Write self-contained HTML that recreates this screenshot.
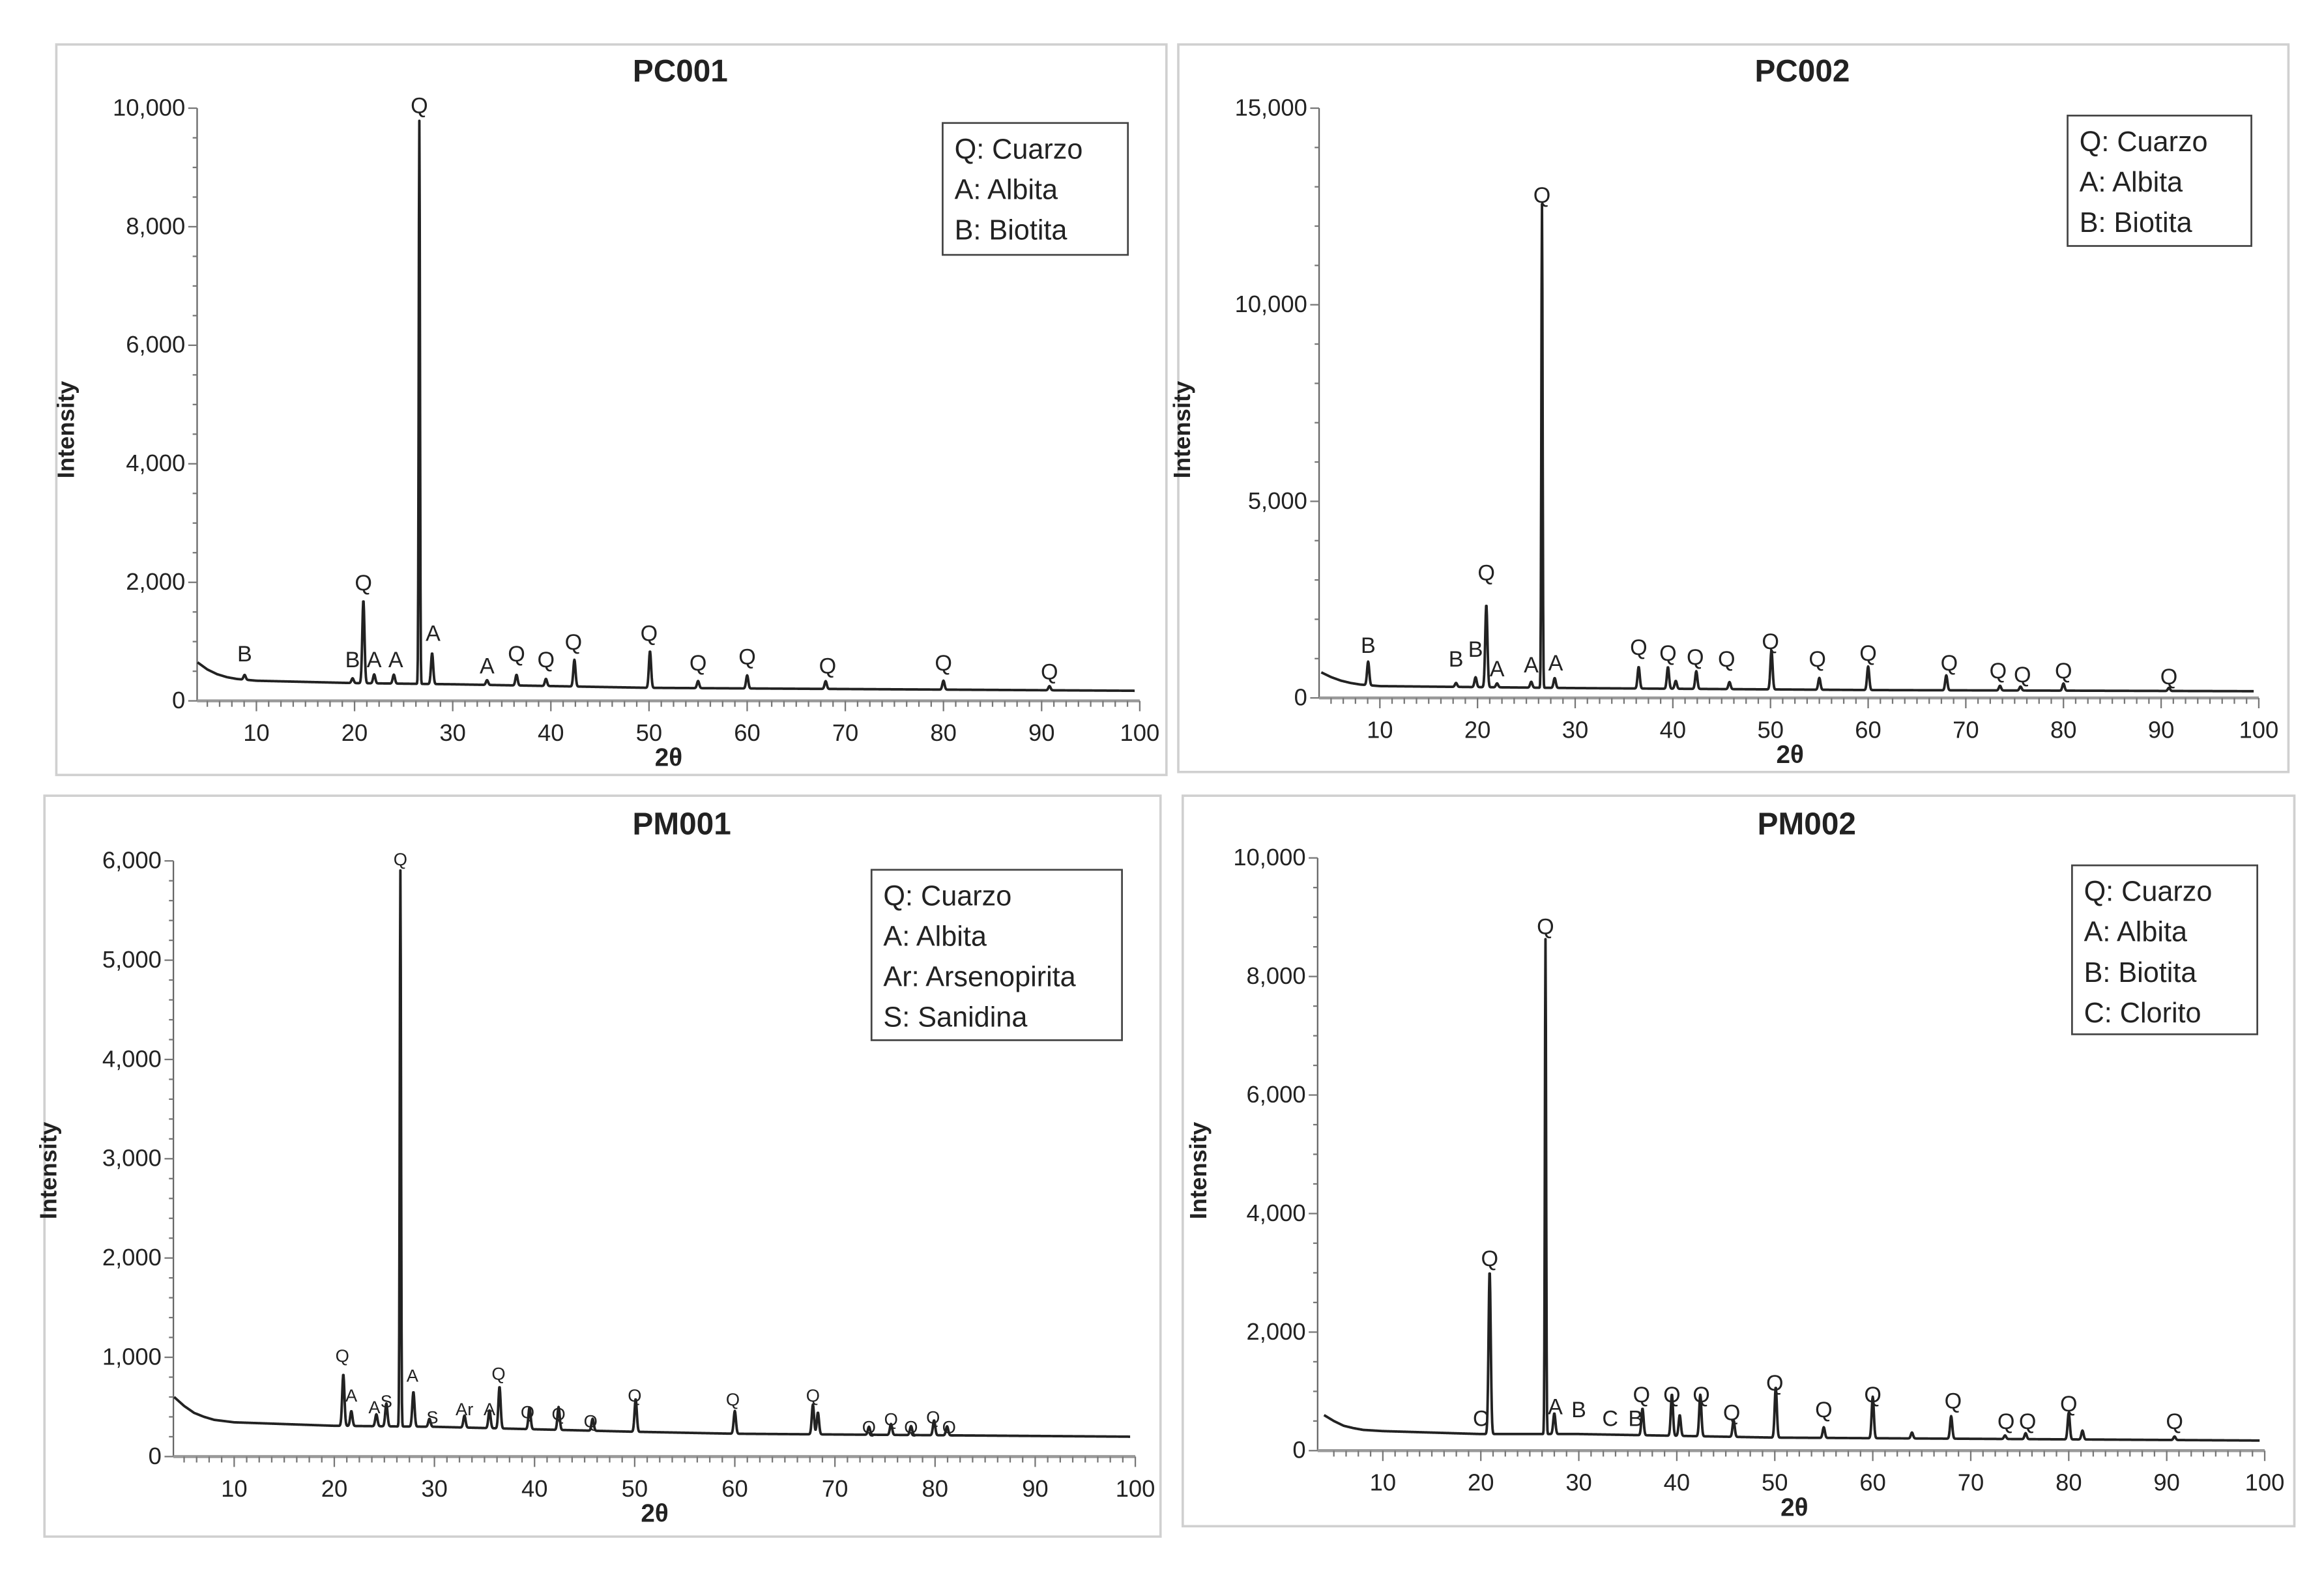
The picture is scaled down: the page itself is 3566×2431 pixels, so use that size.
<!DOCTYPE html>
<html><head><meta charset="utf-8">
<style>
html,body{margin:0;padding:0;background:#fff;}
svg{display:block;}
text{font-family:"Liberation Sans",sans-serif;fill:#222;}
</style></head>
<body>
<svg id="fig" width="3566" height="2431" viewBox="0 0 1568 1069" preserveAspectRatio="none" xmlns="http://www.w3.org/2000/svg"></svg>
<script>
// ---------- PC001 data ----------
const pc001BgX=[4,5,6,7,8,10,20,30,50,70,100];
const pc001BgY=[650,530,450,400,370,340,300,280,220,200,170];
const pc001PeakPos=[8.8,19.8,20.9,22,24,26.6,27.9,33.5,36.5,39.5,42.4,50.1,55,60,68,80,90.8];
const pc001PeakInt=[80,80,1400,150,150,9500,520,80,180,120,450,620,120,220,130,150,70];
const pc001LabelPos=[8.8,19.8,20.9,22,24.2,26.6,28,33.5,36.5,39.5,42.3,50,55,60,68.2,80,90.8];
const pc001LabelInt=[800,700,2000,700,700,10050,1150,600,800,700,1000,1150,650,750,600,650,500];
const pc001LabelText=["B","B","Q","A","A","Q","A","A","Q","Q","Q","Q","Q","Q","Q","Q","Q"];
const pc001Legend=["Q: Cuarzo","A: Albita","B: Biotita"];
// ---------- PC002 data ----------
const pc002BgX=[4,5,6,7,8,10,30,60,100];
const pc002BgY=[650,530,440,380,340,300,250,200,170];
const pc002PeakPos=[8.8,17.8,19.8,20.9,22,25.5,26.6,27.9,36.5,39.5,40.3,42.4,45.8,50.1,55,60,68,73.5,75.6,80,90.8];
const pc002PeakInt=[600,100,250,2100,100,150,12300,250,550,550,200,450,180,1000,300,600,380,120,100,180,80];
const pc002LabelPos=[8.8,17.8,19.8,20.9,22,25.5,26.6,28,36.5,39.5,42.3,45.5,50,54.8,60,68.3,73.3,75.8,80,90.8];
const pc002LabelInt=[1350,1000,1250,3200,750,850,12800,900,1300,1150,1050,1000,1450,1000,1150,900,700,600,700,550];
const pc002LabelText=["B","B","B","Q","A","A","Q","A","Q","Q","Q","Q","Q","Q","Q","Q","Q","Q","Q","Q"];
const pc002Legend=["Q: Cuarzo","A: Albita","B: Biotita"];
// ---------- PM001 data ----------
const pm001BgX=[4,5,6,7,8,10,20,30,50,60,100];
const pm001BgY=[600,510,440,400,370,345,310,300,250,230,200];
const pm001PeakPos=[20.9,21.7,24.2,25.2,26.6,27.9,29.5,33,35.5,36.5,39.5,42.4,45.8,50.1,60,67.8,68.3,73.4,75.6,77.6,79.9,81.2];
const pm001PeakInt=[520,150,120,230,5600,350,80,120,180,420,220,230,120,330,230,300,220,80,110,90,150,90];
const pm001LabelPos=[20.8,21.7,24,25.2,26.6,27.8,29.8,33,35.5,36.4,39.3,42.4,45.6,50,59.8,67.8,73.4,75.6,77.6,79.8,81.4];
const pm001LabelInt=[1020,620,500,560,6020,820,400,480,480,840,450,430,360,620,580,620,300,380,300,400,300];
const pm001LabelText=["Q","A","A","S","Q","A","S","Ar","A","Q","Q","Q","Q","Q","Q","Q","Q","Q","Q","Q","Q"];
const pm001Legend=["Q: Cuarzo","A: Albita","Ar: Arsenopirita","S: Sanidina"];
// ---------- PM002 data ----------
const pm002BgX=[4,5,6,7,8,10,20,30,50,100];
const pm002BgY=[600,500,420,380,350,330,280,280,220,170];
const pm002PeakPos=[20.9,26.6,27.5,36.5,39.5,40.3,42.4,45.8,50.1,55,60,64,68,73.5,75.6,80,81.4,90.8];
const pm002PeakInt=[2750,8350,350,450,700,350,700,280,850,180,700,100,380,60,100,450,150,60];
const pm002LabelPos=[20,20.9,26.6,27.6,30,33.2,35.8,36.4,39.5,42.5,45.6,50,55,60,68.2,73.6,75.8,80,90.8];
const pm002LabelInt=[550,3250,8850,750,700,550,550,950,950,950,650,1150,700,950,850,500,500,800,500];
const pm002LabelText=["C","Q","Q","A","B","C","B","Q","Q","Q","Q","Q","Q","Q","Q","Q","Q","Q","Q"];
const pm002Legend=["Q: Cuarzo","A: Albita","B: Biotita","C: Clorito"];

const NS="http://www.w3.org/2000/svg";
const svg=document.getElementById('fig');
function mk(tag,attrs,parent){const e=document.createElementNS(NS,tag);for(const k in attrs)e.setAttribute(k,attrs[k]);(parent||svg).appendChild(e);return e;}

const panels=[
 {id:'pc001',title:'PC001',frame:[38,30,749,493],ax:133,y0:473,ytop:73,ymax:10000,ystep:2000,yminor:500,x10:173,x100:769,
  titleXY:[459,48],ylab:[44,290],leg:[636,83,125,89],legFs:19,lblFs:15,
  bgX:pc001BgX,bgY:pc001BgY,pp:pc001PeakPos,pi:pc001PeakInt,lp:pc001LabelPos,li:pc001LabelInt,lt:pc001LabelText,legend:pc001Legend},
 {id:'pc002',title:'PC002',frame:[795,30,749,491],ax:890,y0:471,ytop:73,ymax:15000,ystep:5000,yminor:1000,x10:931,x100:1524,
  titleXY:[1216,48],ylab:[797,290],leg:[1395,78,124,88],legFs:19,lblFs:15,
  bgX:pc002BgX,bgY:pc002BgY,pp:pc002PeakPos,pi:pc002PeakInt,lp:pc002LabelPos,li:pc002LabelInt,lt:pc002LabelText,legend:pc002Legend},
 {id:'pm001',title:'PM001',frame:[30,537,753,500],ax:117,y0:983,ytop:581,ymax:6000,ystep:1000,yminor:200,x10:158,x100:766,
  titleXY:[460,556],ylab:[32,790],leg:[588,587,169,115],legFs:19,lblFs:12,
  bgX:pm001BgX,bgY:pm001BgY,pp:pm001PeakPos,pi:pm001PeakInt,lp:pm001LabelPos,li:pm001LabelInt,lt:pm001LabelText,legend:pm001Legend},
 {id:'pm002',title:'PM002',frame:[798,537,750,493],ax:889,y0:979,ytop:579,ymax:10000,ystep:2000,yminor:500,x10:933,x100:1528,
  titleXY:[1219,556],ylab:[808,790],leg:[1398,584,125,114],legFs:19,lblFs:15,
  bgX:pm002BgX,bgY:pm002BgY,pp:pm002PeakPos,pi:pm002PeakInt,lp:pm002LabelPos,li:pm002LabelInt,lt:pm002LabelText,legend:pm002Legend}
];

function interp(xs,ys,x){
  if(x<=xs[0])return ys[0];
  for(let i=1;i<xs.length;i++){if(x<=xs[i]){const t=(x-xs[i-1])/(xs[i]-xs[i-1]);return ys[i-1]+(ys[i]-ys[i-1])*t;}}
  return ys[ys.length-1];
}

panels.forEach(p=>{
  const g=mk('g',{});
  
  
  const sx=v=>p.x10+(v-10)*(p.x100-p.x10)/90;
  const sy=v=>p.y0-v*(p.y0-p.ytop)/p.ymax;
  const fr=mk('rect',{x:p.frame[0],y:p.frame[1],width:p.frame[2],height:p.frame[3],fill:'none',stroke:'#d0d0d0','stroke-width':1.6},g);
  
  
  const t=mk('text',{x:p.titleXY[0],y:p.titleXY[1]+7,'text-anchor':'middle','font-size':21,'font-weight':'bold',fill:'#111'},g);
  t.textContent=p.title;
  
  
  const yl=mk('text',{x:0,y:0,transform:`translate(${p.ylab[0]+6},${p.ylab[1]}) rotate(-90)`,'text-anchor':'middle','font-size':16,'font-weight':'bold',fill:'#111'},g);
  yl.textContent='Intensity';
  
  
  const xl=mk('text',{x:(sx(4)+sx(100))/2,y:p.y0+44,'text-anchor':'middle','font-size':17,'font-weight':'bold',fill:'#111'},g);
  xl.textContent='2θ';
  
  
  const ya=mk('line',{x1:p.ax,y1:p.ytop,x2:p.ax,y2:p.y0,stroke:'#666','stroke-width':1},g);
  
  
  const xa=mk('line',{x1:p.ax,y1:p.y0,x2:sx(100),y2:p.y0,stroke:'#999','stroke-width':2},g);
  
  
  for(let v=0;v<=p.ymax+1e-6;v+=p.yminor){
    const major=Math.abs(v/p.ystep-Math.round(v/p.ystep))<1e-6;
    mk('line',{x1:p.ax-(major?6:3),y1:sy(v),x2:p.ax,y2:sy(v),stroke:'#777','stroke-width':1},g);
    if(major){const tl=mk('text',{x:p.ax-8,y:sy(v)+5,'text-anchor':'end','font-size':16,fill:'#333'},g);
      tl.textContent=v.toLocaleString('en-US');
      
      }
  }
  for(let v=5;v<=100;v+=1.25){
    const major=Math.abs(v%10)<1e-6;
    mk('line',{x1:sx(v),y1:p.y0,x2:sx(v),y2:p.y0+(major?7:4),stroke:'#777','stroke-width':1},g);
  }
  for(let v=10;v<=100;v+=10){
    const tl=mk('text',{x:sx(v),y:p.y0+27,'text-anchor':'middle','font-size':16,fill:'#333'},g);
    tl.textContent=v;
    
    
  }
  let d='';
  for(let x=4;x<=99.5;x+=0.04){
    let y=interp(p.bgX,p.bgY,x);
    for(let i=0;i<p.pp.length;i++){const w=p.pi[i]>3000?0.09:0.16;const dx=(x-p.pp[i])/w;y+=p.pi[i]*Math.exp(-dx*dx);}
    d+=(d?'L':'M')+sx(x).toFixed(2)+' '+sy(y).toFixed(2);
  }
  const tr=mk('path',{d:d,fill:'none',stroke:'#222','stroke-width':1.7,'stroke-linejoin':'round'},g);
  
  
  for(let i=0;i<p.lp.length;i++){
    const lt=mk('text',{x:sx(p.lp[i]),y:sy(p.li[i])+p.lblFs*0.36,'text-anchor':'middle','font-size':p.lblFs,fill:'#222'},g);
    lt.textContent=p.lt[i];
    
    
  }
  const lg=mk('g',{},g);
  
  
  mk('rect',{x:p.leg[0],y:p.leg[1],width:p.leg[2],height:p.leg[3],fill:'#fff',stroke:'#444','stroke-width':1.2},lg);
  p.legend.forEach((s,i)=>{
    const e=mk('text',{x:p.leg[0]+8,y:p.leg[1]+24+i*27.3,'font-size':p.legFs,fill:'#111'},lg);
    e.textContent=s;
    
    
  });
});
</script>
</body></html>
